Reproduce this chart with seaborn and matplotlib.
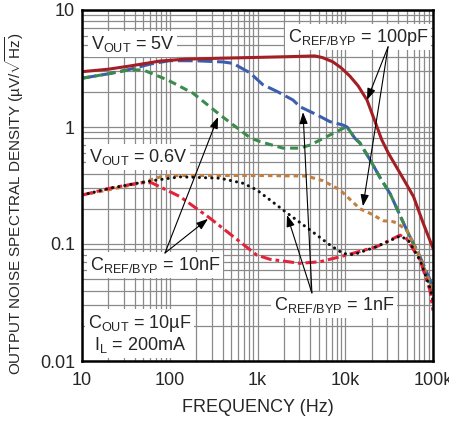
import pandas as pd
import matplotlib
matplotlib.use("Agg")
import matplotlib.pyplot as plt
import seaborn as sns

# VOUT = 5V
f_5v_100p = [10, 20, 35, 77, 150, 370, 1070, 2500, 4500, 5500, 7200, 9000, 11300, 14000,
             17700, 22800, 26000, 30900, 38000, 46000, 60000, 77500, 100000]
v_5v_100p = [2.97, 3.12, 3.32, 3.66, 3.80, 3.87, 3.94, 4.0, 4.05, 3.92, 3.61, 3.2, 2.72, 2.25,
             1.70, 1.02, 0.78, 0.60, 0.46, 0.36, 0.254, 0.15, 0.092]

f_5v_1n = [10, 20, 35, 60, 100, 200, 400, 525, 822, 1150, 1700, 2540, 3050, 4760, 6700, 9400,
           10500, 12900, 14700, 19900, 24900, 32400, 50100, 71100, 100000]
v_5v_1n = [2.61, 2.85, 3.11, 3.45, 3.69, 3.68, 3.6, 3.5, 2.9, 2.3, 2.0, 1.70, 1.49, 1.27, 1.11, 1.04,
           1.0, 0.80, 0.73, 0.50, 0.37, 0.27, 0.132, 0.078, 0.043]

f_5v_10n = [10, 20, 35, 50, 95, 185, 374, 822, 1067, 1950, 3000, 3963, 6700, 9900, 10500,
            12900, 14700, 19900, 24900, 32400, 50100, 71100, 100000]
v_5v_10n = [2.61, 2.85, 3.08, 3.07, 2.52, 1.94, 1.27, 0.81, 0.75, 0.66, 0.66, 0.70, 0.855, 0.99, 1.0,
            0.80, 0.73, 0.50, 0.37, 0.27, 0.132, 0.077, 0.038]

# VOUT = 0.6V
f_06v_100p = [10, 20, 45, 84, 131, 1067, 3630, 5590, 8710, 14700, 19100, 27200, 35300, 38500,
              50100, 71100, 100000]
v_06v_100p = [0.262, 0.29, 0.33, 0.381, 0.385, 0.385, 0.381, 0.347, 0.29, 0.20, 0.183, 0.158, 0.155,
              0.151, 0.132, 0.077, 0.040]

f_06v_1n = [10, 21, 46, 71, 131, 374, 689, 980, 1387, 2150, 3963, 6700, 9420, 12360, 22800, 42100,
            52000, 71100, 92500, 100000]
v_06v_1n = [0.262, 0.30, 0.334, 0.352, 0.375, 0.365, 0.33, 0.29, 0.238, 0.185, 0.132, 0.098, 0.083,
            0.081, 0.095, 0.117, 0.108, 0.073, 0.042, 0.033]

f_06v_10n = [10, 21, 46, 62, 131, 288, 980, 1387, 3050, 5150, 9420, 22800, 42100, 50000, 71100,
             92500, 100000]
v_06v_10n = [0.262, 0.30, 0.334, 0.334, 0.254, 0.166, 0.0805, 0.074, 0.0684, 0.0705, 0.0789, 0.0948,
             0.119, 0.111, 0.073, 0.040, 0.027]

x_ticks = [10, 100, 1000, 10000, 100000]
x_labels = ["10", "100", "1k", "10k", "100k"]
y_ticks = [0.01, 0.1, 1, 10]
y_labels = ["0.01", "0.1", "1", "10"]

sns.set_style("white")
plt.rcParams['font.family'] = ['Liberation Sans', 'DejaVu Sans']
plt.rcParams['mathtext.fontset'] = 'custom'
plt.rcParams['mathtext.rm'] = 'Liberation Sans'
plt.rcParams['mathtext.it'] = 'Liberation Sans'

fig = plt.figure(figsize=(4.49, 4.21), dpi=100)
ax = fig.add_axes([82 / 449, 1 - 361 / 421, 351 / 449, 351 / 421])

series = [
    (f_5v_1n, v_5v_1n, '#3b5fae', (0, (4.8, 1.6)), 'butt'),
    (f_5v_10n, v_5v_10n, '#3a8b4c', (0, (2.6, 1.6)), 'butt'),
    (f_5v_100p, v_5v_100p, '#a31f24', '-', 'butt'),
    (f_06v_100p, v_06v_100p, '#c47f3e', (0, (1.5, 1.3)), 'butt'),
    (f_06v_10n, v_06v_10n, '#e3233b', (0, (3.6, 1.3, 1.2, 1.3)), 'butt'),
    (f_06v_1n, v_06v_1n, '#111111', (0, (0.05, 2.0)), 'round'),
]
for fx, vy, col, ls, cap in series:
    df = pd.DataFrame({'f': fx, 'v': vy})
    sns.lineplot(data=df, x='f', y='v', ax=ax, color=col, linestyle=ls, lw=2.2,
                 dash_capstyle=cap, estimator=None, sort=False)

ax.set_xscale('log')
ax.set_yscale('log')
ax.set_xlim(10, 100000)
ax.set_ylim(0.01, 10)
ax.set_xticks(x_ticks)
ax.set_xticklabels(x_labels)
ax.set_yticks(y_ticks)
ax.set_yticklabels(y_labels)
ax.grid(True, which='both', color='#8a8a8a', lw=0.9)
ax.set_axisbelow(True)
ax.tick_params(which='both', length=0, labelsize=13)
ax.tick_params(axis='x', pad=8)
ax.tick_params(axis='y', pad=5)
for s in ax.spines.values():
    s.set_color('black')
    s.set_linewidth(1.8)

ax.set_xlabel("FREQUENCY (Hz)", fontsize=13, labelpad=7)
ax.set_ylabel(r"OUTPUT NOISE SPECTRAL DENSITY (µV/$\sqrt{\mathregular{Hz}}$)", fontsize=11)
ax.yaxis.set_label_coords(-0.16, 0.45)

box = dict(facecolor='white', edgecolor='none', pad=2)
tk = dict(transform=ax.transAxes, fontsize=13, ha='center', va='center', bbox=box)
ax.text(0.145, 0.903, r"$\mathregular{V_{OUT}}$ = 5V", **tk)
ax.text(0.786, 0.923, r"$\mathregular{C_{REF/BYP}}$ = 100pF", **tk)
ax.text(0.16, 0.581, r"$\mathregular{V_{OUT}}$ = 0.6V", **tk)
ax.text(0.208, 0.274, r"$\mathregular{C_{REF/BYP}}$ = 10nF", **tk)
ax.text(0.718, 0.16, r"$\mathregular{C_{REF/BYP}}$ = 1nF", **tk)
ax.text(0.165, 0.077, "$\\mathregular{C_{OUT}}$ = 10µF\n$\\mathregular{I_L}$ = 200mA",
        linespacing=1.1, **tk)

arrow = dict(arrowstyle='-|>,head_length=0.7,head_width=0.25', color='black', lw=0.8,
             shrinkA=0, shrinkB=0)
for org, tips in [((0.872, 0.895), [(17700, 1.70), (15900, 0.21)]),
                  ((0.2365, 0.3077), [(355, 1.22), (273, 0.164)]),
                  ((0.655, 0.194), [(3300, 1.34), (2170, 0.177)])]:
    for tip in tips:
        ax.annotate("", xy=tip, xycoords='data', xytext=org, textcoords='axes fraction',
                    arrowprops=arrow)

fig.savefig("out.png", dpi=100)
